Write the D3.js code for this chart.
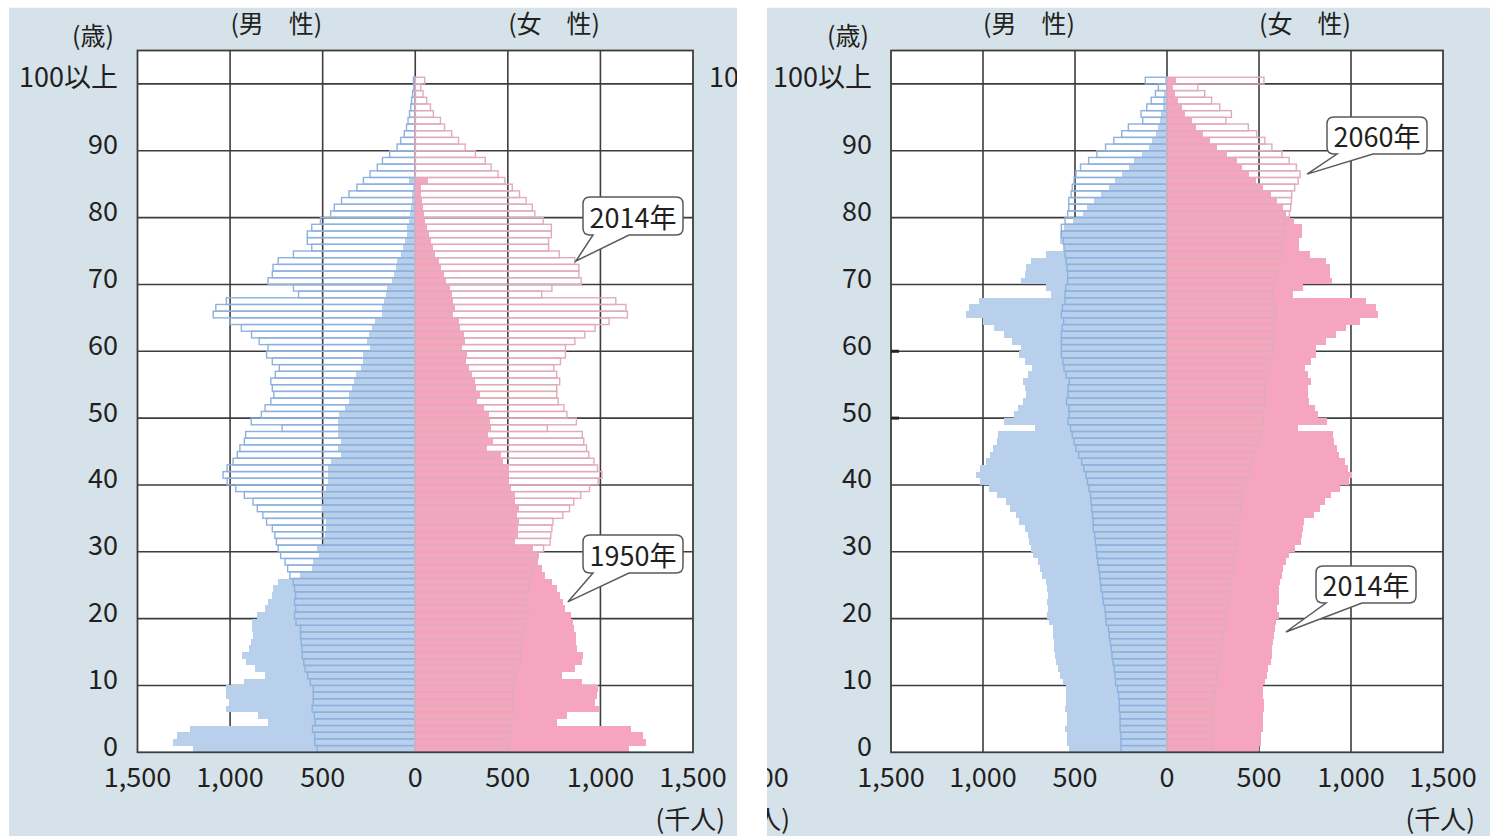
<!DOCTYPE html>
<html><head><meta charset="utf-8">
<script src="https://cdn.jsdelivr.net/npm/d3@7"></script>
<style>
body{margin:0;background:#fff}
svg{display:block}
text{font-family:"Noto Sans CJK JP","Noto Sans",sans-serif;fill:#231f20}
</style></head>
<body><svg id="chart" width="1490" height="836"></svg>
<script>
// ---------------- data (thousand persons) ----------------
const ages = d3.range(0, 101);               // 0 .. 100 (100 = 100以上)
const ageTicks = [0,10,20,30,40,50,60,70,80,90,100];
const ageTickLabels = ["0","10","20","30","40","50","60","70","80","90","100以上"];
const popTicks = [-1500,-1000,-500,0,500,1000,1500];
const popTickLabels = ["1,500","1,000","500","0","500","1,000","1,500"];
const sexLabels = ["(男\u3000性)","(女\u3000性)"];
const ageUnit = "(歳)";
const popUnit = "(千人)";

// 1950: ages 0..84, last entry = 85歳以上
const male1950 = [1201,1307,1284,1217,797,847,1024,1004,1024,1024,
  925,811,866,916,935,896,886,874,882,880,
  855,811,797,774,768,742,622,557,551,518,
  528,492,486,482,482,492,502,492,498,482,
  470,470,470,455,400,417,400,417,417,417,
  412,378,356,360,341,329,319,295,282,282,
  246,258,252,234,220,181,177,167,158,150,
  126,114,106,98,79,67,55,45,45,36,
  28,24,20,16,12,35];
const female1950 = [1152,1246,1231,1166,768,817,994,969,980,985,
  900,793,862,900,906,874,870,866,860,853,
  841,807,797,784,768,738,703,685,664,664,
  634,541,557,555,563,551,563,541,541,516,
  506,506,506,473,465,390,419,392,410,406,
  396,370,335,349,329,323,305,291,276,280,
  250,266,264,242,236,205,215,205,197,185,
  167,154,138,128,108,98,83,75,63,55,
  49,43,39,33,30,69];
const male2014 = [530,543,543,555,541,545,557,551,551,551,
  567,581,595,602,610,612,616,620,620,644,
  652,646,652,646,652,659,677,689,703,727,
  740,750,758,772,803,823,853,876,923,969,
  1016,1038,1016,984,961,947,923,916,719,886,
  831,811,780,764,772,780,756,734,772,803,
  795,843,884,939,1000,1091,1077,1020,630,658,
  795,772,768,740,658,559,583,583,559,512,
  457,437,398,358,315,280,244,205,177,138,
  98,79,59,47,39,31,24,20,14,8,10];
const female2014 = [500,512,512,520,520,520,528,528,524,524,
  532,541,551,567,571,571,577,581,587,591,
  610,600,606,606,610,614,626,630,646,664,
  693,728,732,738,744,797,833,856,894,941,
  988,1008,984,965,937,925,910,902,713,870,
  819,803,772,764,764,780,764,748,784,811,
  811,862,916,971,1047,1146,1138,1083,683,738,
  896,884,884,862,778,720,720,735,735,691,
  646,632,599,563,524,484,447,410,378,325,
  270,234,197,158,136,98,82,62,42,30,51];
const male2060 = [250,250,250,255,255,255,259,259,263,269,
  279,283,287,293,299,303,308,314,318,330,
  334,338,346,350,358,362,365,371,377,381,
  385,389,393,401,401,405,409,413,416,424,
  432,440,452,464,480,495,505,515,524,538,
  532,534,546,538,538,531,548,560,566,574,
  574,574,574,570,562,574,568,554,554,550,
  540,540,544,548,554,560,564,574,574,554,
  540,534,534,521,515,505,495,470,426,381,
  334,289,246,210,132,141,110,86,63,47,118];
const female2060 = [244,244,244,246,248,248,250,252,255,261,
  267,271,279,283,291,295,299,303,310,316,
  322,330,334,340,346,350,354,360,365,369,
  377,381,385,389,389,395,399,405,409,419,
  428,440,448,456,468,483,497,507,515,523,
  523,527,531,534,531,527,538,554,562,570,
  578,582,586,578,582,590,590,582,578,580,
  586,595,605,613,613,621,629,635,641,645,
  665,672,676,678,694,713,723,703,664,625,
  570,532,487,442,320,350,287,242,205,167,527];

// ---------------- layout ----------------
const C = {
  bg:"#d5e2ea", grid:"#3d3d3d",
  blueFill:"#b9d0ec", pinkFill:"#f5a5bf",
  blueLine:"#8db1de", pinkLine:"#e0acb9"
};
const panels = [
  {bg:[9,737], plot:[137.5,693], filled:[male1950,female1950], outline:[male2014,female2014],
   yLabelX:118, unitX:93, extra:"left",
   callouts:[
     {label:"2014年", series:female2014, age:73, dx:1, box:[583,197,100,38]},
     {label:"1950年", series:female1950, age:22, dx:5, box:[583,535,100,38]}]},
  {bg:[767,1490], plot:[891,1443], filled:[male2014,female2014], outline:[male2060,female2060],
   yLabelX:872, unitX:848, extra:"right",
   callouts:[
     {label:"2060年", series:female2060, age:86, dx:7, box:[1327,117,100,37]},
     {label:"2014年", series:female2014, age:17.5, dx:12, box:[1316,566,100,37]}]}
];
const plotTop = 50.5, plotBottom = 752.3;
const y = d3.scaleLinear().domain([0,105]).range([plotBottom, plotTop]);

const svg = d3.select("#chart");
const defs = svg.append("defs");

panels.forEach((p, pi) => {
  const x = d3.scaleLinear().domain([-1500,1500]).range(p.plot);
  const clipId = "clip"+pi;
  defs.append("clipPath").attr("id", clipId)
    .append("rect").attr("x", p.bg[0]).attr("y", 7.5).attr("width", p.bg[1]-p.bg[0]).attr("height", 836-7.5);
  const g = svg.append("g").attr("clip-path", `url(#${clipId})`);
  g.append("rect").attr("x", p.bg[0]).attr("y", 7.5).attr("width", p.bg[1]-p.bg[0]).attr("height", 836-7.5)
    .attr("fill", C.bg);

  // plot background
  g.append("rect").attr("x", x(-1500)).attr("y", plotTop).attr("width", x(1500)-x(-1500))
    .attr("height", plotBottom-plotTop).attr("fill", "#fff");

  // grid
  g.append("g").selectAll("line").data(popTicks.slice(1,-1)).join("line")
    .attr("x1", d=>x(d)).attr("x2", d=>x(d)).attr("y1", plotTop).attr("y2", plotBottom)
    .attr("stroke", C.grid).attr("stroke-width", 1.6);
  g.append("g").selectAll("line").data(ageTicks.slice(1)).join("line")
    .attr("x1", x(-1500)).attr("x2", x(1500)).attr("y1", d=>y(d)).attr("y2", d=>y(d))
    .attr("stroke", C.grid).attr("stroke-width", 1.6);

  // filled bars
  const fill = g.append("g");
  [[p.filled[0], -1, C.blueFill],[p.filled[1], 1, C.pinkFill]].forEach(([vals, sgn, col]) => {
    fill.selectAll(null).data(vals.map((v,i)=>({age:i, v}))).join("rect")
      .attr("x", d => sgn<0 ? x(-d.v) : x(0))
      .attr("width", d => Math.abs(x(d.v)-x(0)))
      .attr("y", d => y(d.age+1)).attr("height", d => y(d.age)-y(d.age+1))
      .attr("fill", col).attr("shape-rendering","crispEdges");
  });
  // outline bars
  const outl = g.append("g");
  [[p.outline[0], -1, C.blueLine],[p.outline[1], 1, C.pinkLine]].forEach(([vals, sgn, col]) => {
    outl.selectAll(null).data(vals.map((v,i)=>({age:i, v}))).join("rect")
      .attr("x", d => sgn<0 ? x(-d.v) : x(0))
      .attr("width", d => Math.abs(x(d.v)-x(0)))
      .attr("y", d => y(d.age+1)).attr("height", d => y(d.age)-y(d.age+1))
      .attr("fill", "none").attr("stroke", col).attr("stroke-width", 1.4);
  });

  // plot border
  g.append("rect").attr("x", x(-1500)).attr("y", plotTop).attr("width", x(1500)-x(-1500))
    .attr("height", plotBottom-plotTop).attr("fill", "none").attr("stroke", C.grid).attr("stroke-width", 1.8);

  // small left ticks (right panel only)
  if (pi === 1) {
    g.selectAll(null).data([50,60]).join("line")
      .attr("x1", x(-1500)).attr("x2", x(-1500)+8).attr("y1", d=>y(d)).attr("y2", d=>y(d))
      .attr("stroke", "#222").attr("stroke-width", 3);
  }

  // y labels
  g.selectAll(null).data(ageTicks).join("text")
    .attr("x", p.yLabelX).attr("y", d => y(d)-8)
    .attr("text-anchor","end").attr("dominant-baseline","central")
    .attr("font-size", 27).text((d,i)=>ageTickLabels[i]);
  // x labels
  g.selectAll(null).data(popTicks).join("text")
    .attr("x", d=>x(d)).attr("y", 775)
    .attr("text-anchor","middle").attr("dominant-baseline","central")
    .attr("font-size", 27).text((d,i)=>popTickLabels[i]);
  // units
  g.append("text").attr("x", x(1500)+32).attr("y", 817).attr("text-anchor","end")
    .attr("dominant-baseline","central").attr("font-size", 26).text(popUnit);
  g.append("text").attr("x", p.unitX).attr("y", 34).attr("text-anchor","middle")
    .attr("dominant-baseline","central").attr("font-size", 25).text(ageUnit);
  g.append("text").attr("x", (x(-1000)+x(-500))/2).attr("y", 22).attr("text-anchor","middle")
    .attr("dominant-baseline","central").attr("font-size", 25).text(sexLabels[0]);
  g.append("text").attr("x", (x(500)+x(1000))/2).attr("y", 22).attr("text-anchor","middle")
    .attr("dominant-baseline","central").attr("font-size", 25).text(sexLabels[1]);

  // cut-off labels from neighbouring panels
  if (p.extra === "left") {
    g.append("text").attr("x", 808).attr("y", y(100)-8).attr("text-anchor","end")
      .attr("dominant-baseline","central").attr("font-size", 27).text(ageTickLabels[10]);
  } else {
    g.append("text").attr("x", 755).attr("y", 775).attr("text-anchor","middle")
      .attr("dominant-baseline","central").attr("font-size", 27).text(popTickLabels[6]);
    g.append("text").attr("x", 790).attr("y", 817).attr("text-anchor","end")
      .attr("dominant-baseline","central").attr("font-size", 26).text(popUnit);
  }

  // callouts
  p.callouts.forEach(c => {
    const [bx,by,bw,bh] = c.box, r = 7;
    const a0 = Math.floor(c.age);
    const tx = x(c.series[a0]) + c.dx, ty = y(c.age + 0.5);
    const b1 = bx+10, b2 = bx+46;
    const path = `M${bx+r},${by} H${bx+bw-r} Q${bx+bw},${by} ${bx+bw},${by+r} V${by+bh-r} Q${bx+bw},${by+bh} ${bx+bw-r},${by+bh} H${b2} L${tx},${ty} L${b1},${by+bh} H${bx+r} Q${bx},${by+bh} ${bx},${by+bh-r} V${by+r} Q${bx},${by} ${bx+r},${by} Z`;
    g.append("path").attr("d", path).attr("fill","#fff").attr("stroke","#5a5a5a").attr("stroke-width",1.5);
    g.append("text").attr("x", bx+bw/2).attr("y", by+bh/2).attr("text-anchor","middle")
      .attr("dominant-baseline","central").attr("font-size", 27).text(c.label);
  });
});
</script>
</body></html>
